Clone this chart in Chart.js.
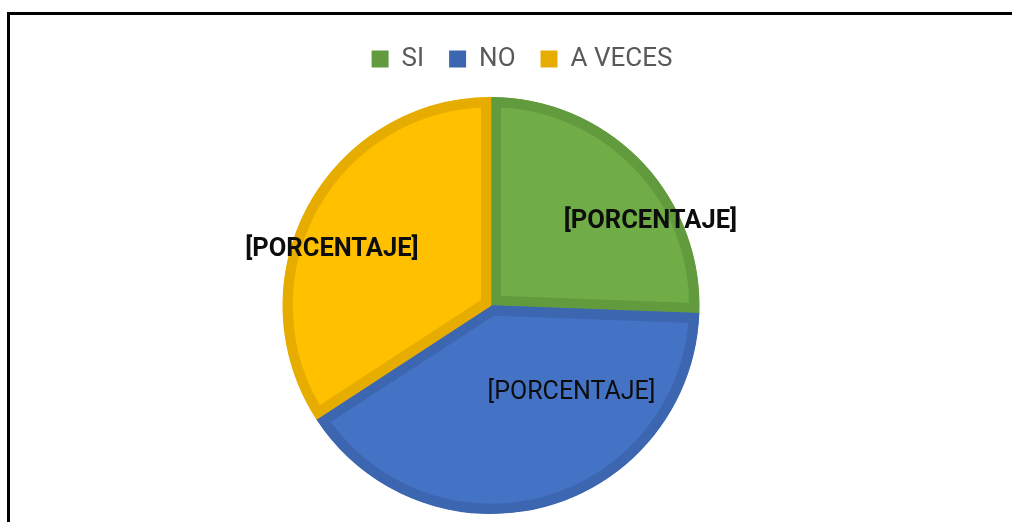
<!DOCTYPE html>
<html>
<head>
<meta charset="utf-8">
<script src="https://cdn.jsdelivr.net/npm/chart.js@4"></script>
<style>
  html, body { margin: 0; padding: 0; background: #fff; }
  #wrap { position: relative; width: 1012px; height: 522px; overflow: hidden; }
  #frame { position: absolute; left: 7px; top: 12px; right: -10px; bottom: -10px; border-left: 3px solid #000; border-top: 3px solid #000; pointer-events: none; }
</style>
</head>
<body>
<div id="wrap">
  <canvas id="myChart" width="1012" height="522"></canvas>
  <div id="frame"></div>
</div>
<script>
const categories = ['SI', 'NO', 'A VECES'];
const percentages = [25.6, 40.2, 34.2];
const dataLabels = ['[PORCENTAJE]', '[PORCENTAJE]', '[PORCENTAJE]'];

const fillColors = ['#70AD47', '#4472C4', '#FFC000'];
const edgeColors = ['#629A3E', '#3D66B0', '#E6AD00'];

// where each label sits: angle from top (deg, clockwise) and fraction of radius
const labelSpots = [
    { angle: 60.9, dist: 0.875, font: 'bold 25.5px Roboto' },
    { angle: 135.7, dist: 0.553, font: '25px Roboto' },
    { angle: 290.8, dist: 0.816, font: 'bold 25.5px Roboto' }
];
const textNudge = 5; // roboto sits a little high with middle baseline

const sliceLabels = {
    id: 'sliceLabels',
    afterDatasetsDraw(chart) {
        const ctx = chart.ctx;
        const arcs = chart.getDatasetMeta(0).data;
        ctx.save();
        ctx.textAlign = 'center';
        ctx.textBaseline = 'middle';
        ctx.fillStyle = '#0d0d0d';
        arcs.forEach((arc, i) => {
            const spot = labelSpots[i];
            const a = (spot.angle - 90) * Math.PI / 180;
            const r = arc.outerRadius * spot.dist;
            ctx.font = spot.font;
            ctx.fillText(dataLabels[i], arc.x + Math.cos(a) * r, arc.y + Math.sin(a) * r + textNudge);
        });
        ctx.restore();
    }
};

// legend sits a bit right of the pie and closer to it in the original
const legendShift = {
    id: 'legendShift',
    afterLayout(chart) {
        const lg = chart.legend;
        lg.left += 31;
        lg.right += 31;
        lg.top -= 15;
        lg.bottom -= 15;
    }
};

const ctx = document.getElementById('myChart');

new Chart(ctx, {
    type: 'pie',
    data: {
        labels: categories,
        datasets: [{
            data: percentages,
            backgroundColor: fillColors,
            borderColor: edgeColors,
            borderWidth: 10,
            borderAlign: 'inner'
        }]
    },
    options: {
        responsive: false,
        animation: false,
        layout: {
            padding: { top: 36, bottom: 8, left: 0, right: 30 }
        },
        plugins: {
            tooltip: { enabled: false },
            legend: {
                position: 'top',
                labels: {
                    boxWidth: 17,
                    boxHeight: 17,
                    padding: 25,
                    color: '#595959',
                    font: { family: 'Roboto', size: 26, lineHeight: 1.3 },
                    generateLabels(chart) {
                        return categories.map((name, i) => ({
                            text: name,
                            fillStyle: edgeColors[i],
                            strokeStyle: edgeColors[i],
                            lineWidth: 0,
                            fontColor: '#595959',
                            index: i
                        }));
                    }
                }
            }
        }
    },
    plugins: [legendShift, sliceLabels]
});
</script>
</body>
</html>
